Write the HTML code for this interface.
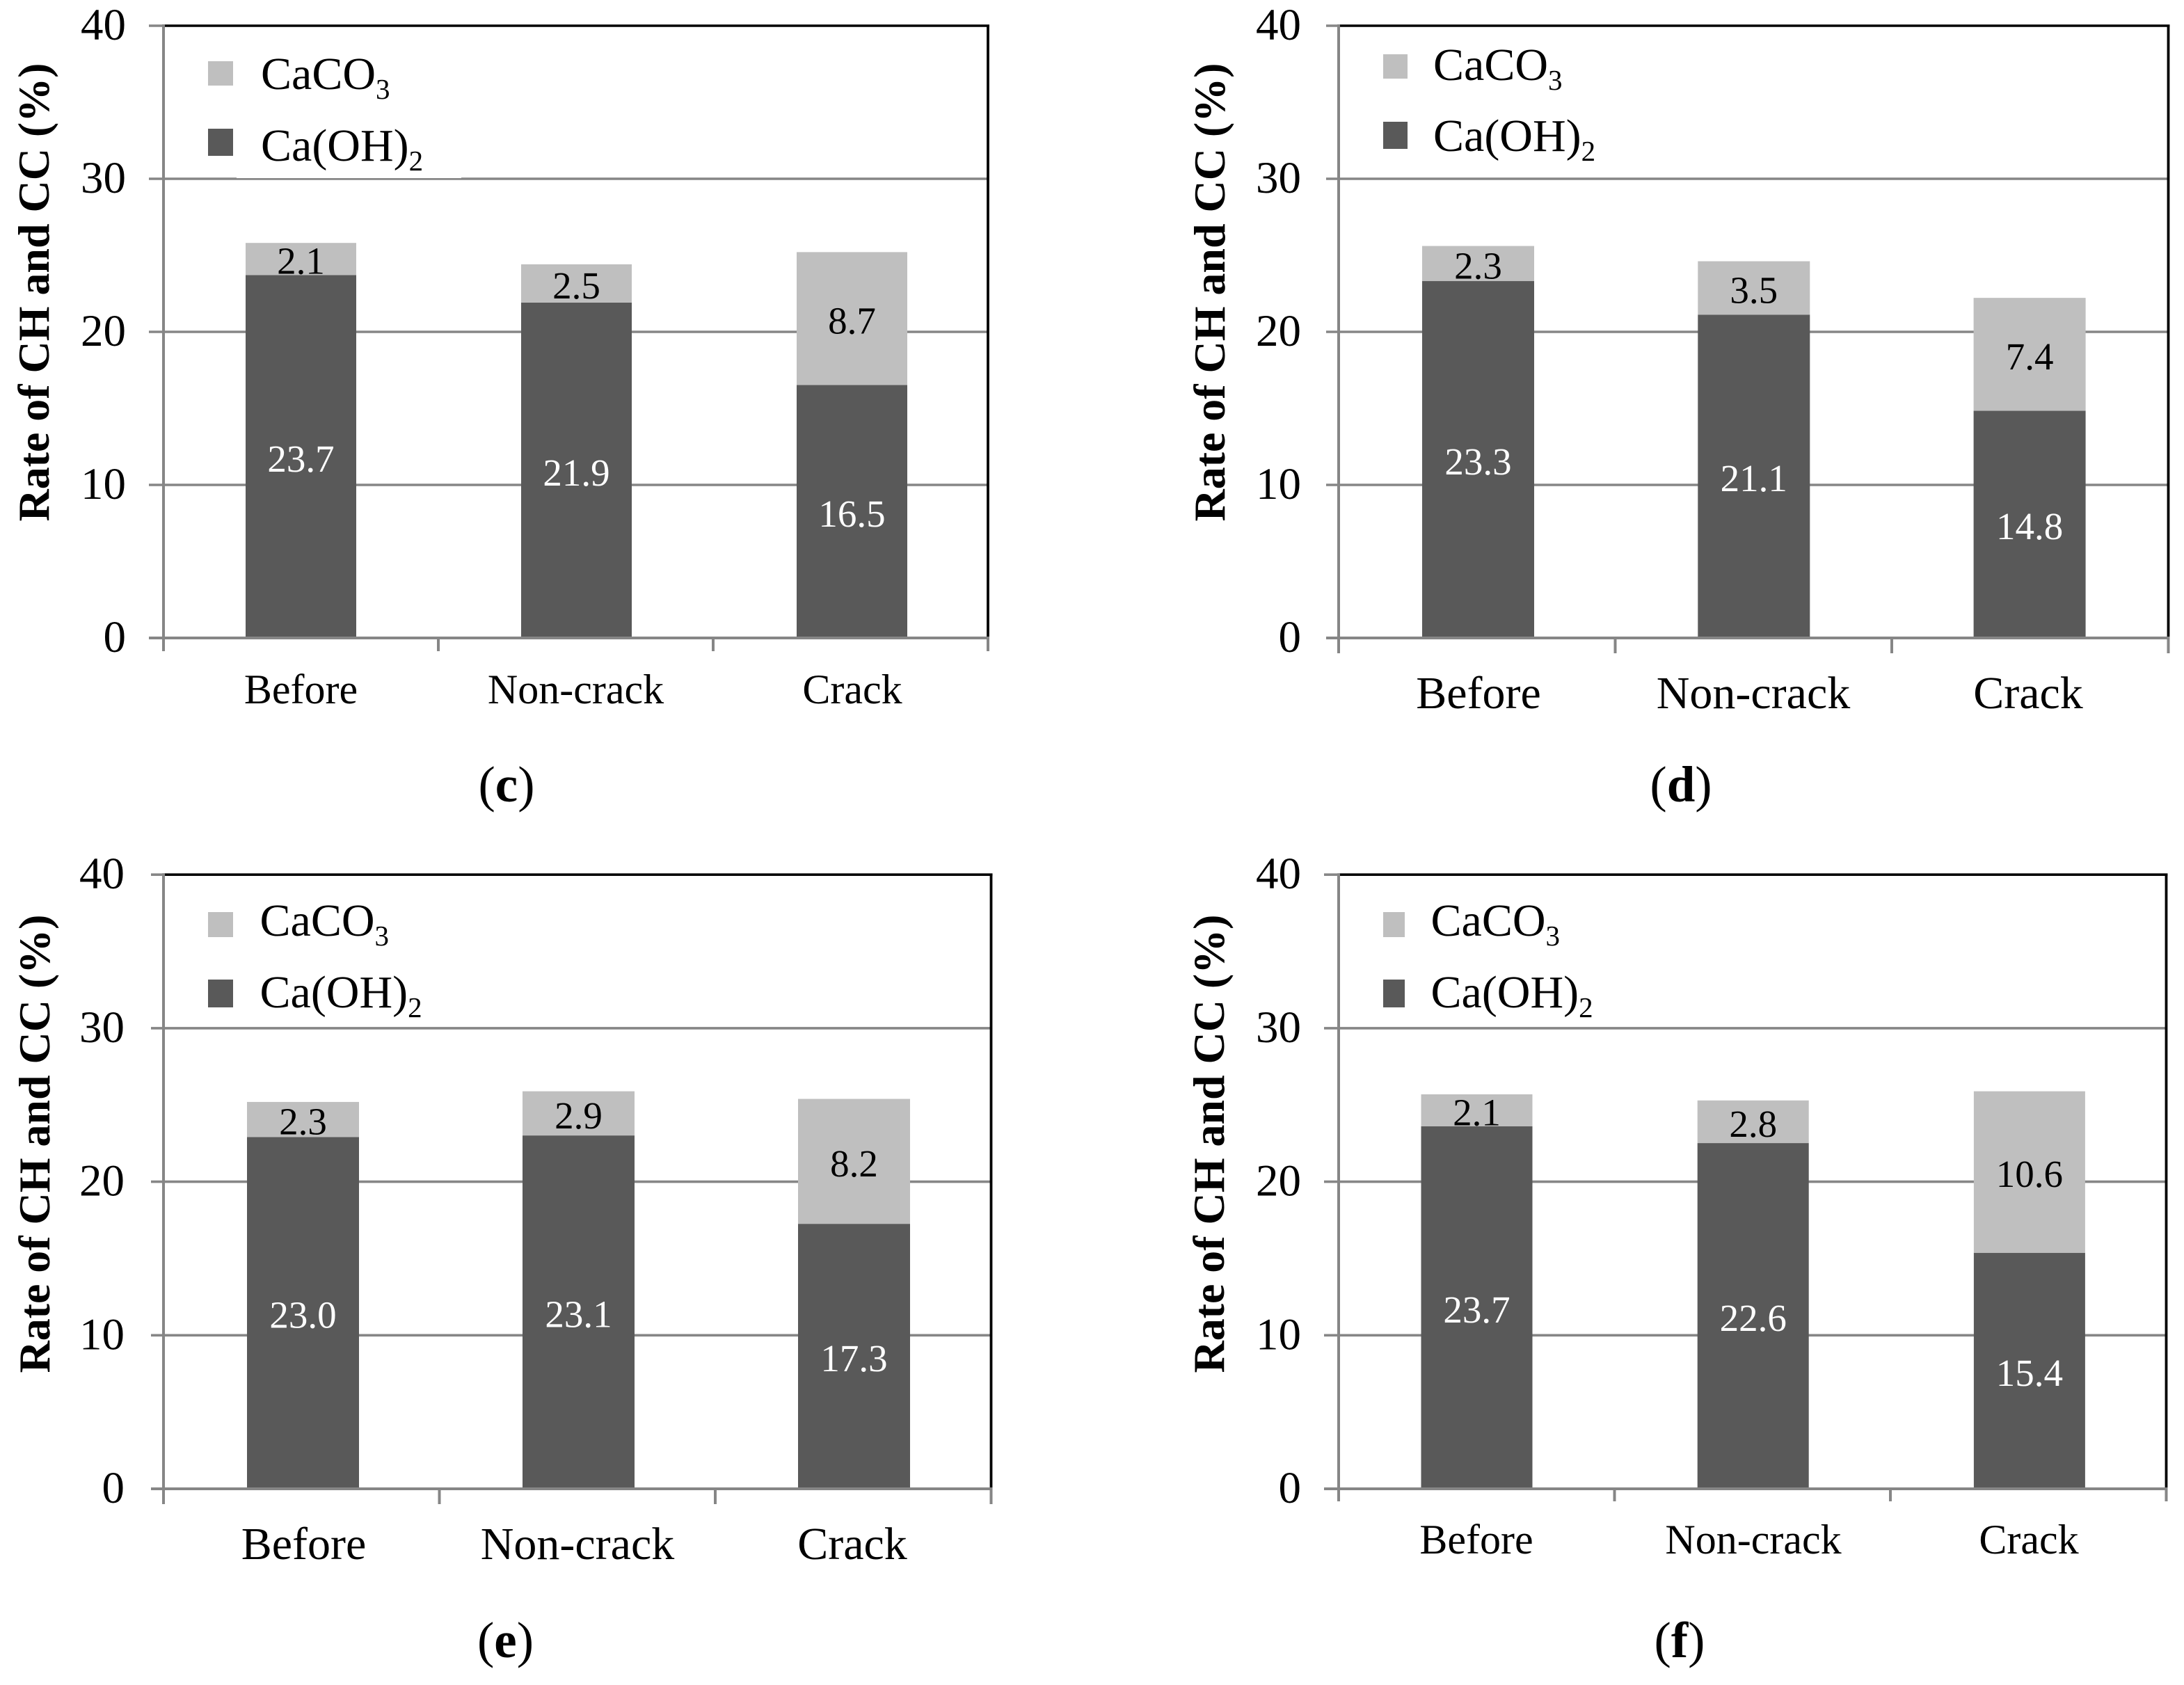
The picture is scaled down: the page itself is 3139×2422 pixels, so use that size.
<!DOCTYPE html>
<html lang="en">
<head>
<meta charset="utf-8">
<title>Rate of CH and CC charts</title>
<style>
html,body{margin:0;padding:0;background:#fff;}
svg{display:block;}
text{font-family:"Liberation Serif","Times New Roman",serif;fill:#000;}
</style>
</head>
<body>
<svg id="figure" xmlns="http://www.w3.org/2000/svg" width="3139" height="2422" viewBox="0 0 3139 2422">
<rect x="0" y="0" width="3139" height="2422" fill="#ffffff"/>
</svg>
<script>
const categories = ["Before", "Non-crack", "Crack"];
const yTickValues = [0, 10, 20, 30, 40];
const axisTitle = "Rate of CH and CC (%)";

const caOH2PanelC = [23.7, 21.9, 16.5];
const caCO3PanelC = [2.1, 2.5, 8.7];
const caOH2PanelD = [23.3, 21.1, 14.8];
const caCO3PanelD = [2.3, 3.5, 7.4];
const caOH2PanelE = [23.0, 23.1, 17.3];
const caCO3PanelE = [2.3, 2.9, 8.2];
const caOH2PanelF = [23.7, 22.6, 15.4];
const caCO3PanelF = [2.1, 2.8, 10.6];

const DARK = "#595959", LIGHT = "#bfbfbf", GRID = "#868686";
const NS = "http://www.w3.org/2000/svg";
const root = document.getElementById("figure");

function make(parent, tag, attrs, text) {
  const el = document.createElementNS(NS, tag);
  for (const k in attrs) el.setAttribute(k, attrs[k]);
  if (text !== undefined) el.textContent = text;
  parent.appendChild(el);
  return el;
}

function drawPanel(p) {
  const g = make(root, "g", {});
  
  

  const yScale = v => p.y0 - p.unit * v;
  const xRight = p.x0 + p.cat * 3;
  const xCenter = i => p.barStart + p.barStep * i;
  const barY = v => p.barBase - p.barUnit * v;

  // horizontal gridlines and left ticks
  yTickValues.forEach(function (t) {
    if (t === 0) return;
    const isTop = t === yTickValues[yTickValues.length - 1];
    const line = make(g, "line", {x1: p.tickLeft, x2: isTop ? p.x0 : xRight, y1: yScale(t), y2: yScale(t), stroke: GRID, "stroke-width": 3.6});
    
    
  });

  // plot frame: top and right are black
  const topEdge = make(g, "line", {x1: p.x0, x2: xRight + 2, y1: yScale(40), y2: yScale(40), stroke: "#000", "stroke-width": 3.6});
  
  
  const rightEdge = make(g, "line", {x1: xRight, x2: xRight, y1: yScale(40), y2: p.y0, stroke: "#000", "stroke-width": 3.8});
  
  

  // stacked bars
  categories.forEach(function (c, i) {
    const ch = p.caOH2[i], cc = p.caCO3[i];
    const x = xCenter(i) - p.barW / 2;
    const lower = make(g, "rect", {x: x, y: barY(ch), width: p.barW, height: barY(0) - barY(ch), fill: DARK});
    
    
    const upper = make(g, "rect", {x: x, y: barY(ch + cc), width: p.barW, height: barY(ch) - barY(ch + cc), fill: LIGHT});
    
    
  });

  // baseline, y axis, category ticks
  const baseline = make(g, "line", {x1: p.tickLeft, x2: xRight + 2, y1: p.y0, y2: p.y0, stroke: GRID, "stroke-width": 4});
  
  
  const yAxis = make(g, "line", {x1: p.x0, x2: p.x0, y1: yScale(40) - 2, y2: p.y0 + p.tickLen, stroke: GRID, "stroke-width": 4});
  
  
  [1, 2, 3].forEach(function (n) {
    const tick = make(g, "line", {x1: p.x0 + p.cat * n, x2: p.x0 + p.cat * n, y1: p.y0, y2: p.y0 + p.tickLen, stroke: GRID, "stroke-width": 4});
    
    
  });

  // y tick labels
  yTickValues.forEach(function (t) {
    const label = make(g, "text", {x: p.tickRight, y: yScale(t) + 20, "text-anchor": "end", "font-size": 65}, String(t));
    
    
  });

  // y axis title
  const title = make(g, "text", {
    transform: "translate(" + p.titleX + " " + p.titleY + ") rotate(-90)",
    x: 0, y: 0, "text-anchor": "middle", "font-size": 64, "font-weight": "bold",
    textLength: 659, lengthAdjust: "spacing"
  }, axisTitle);
  
  

  // category labels
  categories.forEach(function (c, i) {
    const cx = p.catX[i];
    const label = make(g, "text", {x: cx, y: p.catY, "text-anchor": "middle", "font-size": p.catFont}, c);
    
    
  });

  // printed values
  categories.forEach(function (c, i) {
    const ch = p.caOH2[i], cc = p.caCO3[i];
    const cx = xCenter(i);
    const yLow = (barY(0) + barY(ch)) / 2 + 22.5;
    const yUp = (barY(ch) + barY(ch + cc)) / 2 + 21.5;
    const low = make(g, "text", {x: cx, y: yLow, "text-anchor": "middle", "font-size": 55, style: "fill:#fff"}, ch.toFixed(1));
    
    
    const up = make(g, "text", {x: cx, y: yUp, "text-anchor": "middle", "font-size": 55}, cc.toFixed(1));
    
    
  });

  // legend
  if (p.legendMask) {
    const mask = make(g, "rect", {x: p.legendMask[0], y: p.legendMask[1], width: p.legendMask[2], height: p.legendMask[3], fill: "#fff"});
    
    
  }
  const sw1 = make(g, "rect", {x: p.swX, y: p.sw1Y, width: p.swW, height: p.sw1H, fill: LIGHT});
  
  
  const sw2 = make(g, "rect", {x: p.swX, y: p.sw2Y, width: p.swW, height: p.sw2H, fill: DARK});
  
  

  const l1 = make(g, "text", {x: p.legX, y: p.leg1Y, "font-size": 66}, "CaCO");
  
  
  make(l1, "tspan", {dy: 14, "font-size": 41}, "3");
  const l2 = make(g, "text", {x: p.legX, y: p.leg2Y, "font-size": 66}, "Ca(OH)");
  
  
  make(l2, "tspan", {dy: 14, "font-size": 41}, "2");

  // panel caption
  const cap = make(g, "text", {x: p.capX, y: p.capY, "text-anchor": "middle", "font-size": 73}, "(");
  
  
  make(cap, "tspan", {"font-weight": "bold"}, p.id);
  make(cap, "tspan", {}, ")");
}

drawPanel({id: "c", caOH2: caOH2PanelC, caCO3: caCO3PanelC,
  x0: 235, cat: 395, y0: 917, unit: 22, barBase: 916, barUnit: 21.97, barStart: 432.5, barStep: 396, barW: 159, tickLeft: 214, tickLen: 19, tickRight: 181,
  titleX: 70, titleY: 420, catX: [432.5, 827.5, 1225], catY: 1011, catFont: 60,
  swX: 299, swW: 36, sw1Y: 88, sw1H: 35, sw2Y: 185, sw2H: 39, legX: 375, leg1Y: 128, leg2Y: 231,
  legendMask: [340, 130, 323, 126], capX: 728, capY: 1152});

drawPanel({id: "d", caOH2: caOH2PanelD, caCO3: caCO3PanelD,
  x0: 1924, cat: 397.5, y0: 917, unit: 22, barBase: 915, barUnit: 21.93, barStart: 2124.5, barStep: 396.3, barW: 161, tickLeft: 1906, tickLen: 22, tickRight: 1870,
  titleX: 1760, titleY: 420, catX: [2125, 2520, 2915], catY: 1018, catFont: 66,
  swX: 1988, swW: 35, sw1Y: 78, sw1H: 35, sw2Y: 175, sw2H: 39, legX: 2060, leg1Y: 115, leg2Y: 217,
  capX: 2416, capY: 1152});

drawPanel({id: "e", caOH2: caOH2PanelE, caCO3: caCO3PanelE,
  x0: 235, cat: 396.5, y0: 2140, unit: 22.07, barBase: 2138, barUnit: 21.9, barStart: 435.5, barStep: 396, barW: 161, tickLeft: 217, tickLen: 22, tickRight: 179,
  titleX: 71, titleY: 1644, catX: [436.5, 830, 1225], catY: 2241, catFont: 66,
  swX: 299, swW: 36, sw1Y: 1311, sw1H: 36, sw2Y: 1408, sw2H: 40, legX: 373.5, leg1Y: 1345, leg2Y: 1448,
  capX: 726.5, capY: 2382});

drawPanel({id: "f", caOH2: caOH2PanelF, caCO3: caCO3PanelF,
  x0: 1924, cat: 396.5, y0: 2140, unit: 22.07, barBase: 2138, barUnit: 21.9, barStart: 2122.5, barStep: 397.2, barW: 160, tickLeft: 1903, tickLen: 18, tickRight: 1870,
  titleX: 1759, titleY: 1644, catX: [2122, 2520, 2916], catY: 2233, catFont: 60,
  swX: 1988, swW: 31, sw1Y: 1311, sw1H: 36, sw2Y: 1408, sw2H: 40, legX: 2056.5, leg1Y: 1345, leg2Y: 1448,
  capX: 2414, capY: 2382});
</script>
</body>
</html>
